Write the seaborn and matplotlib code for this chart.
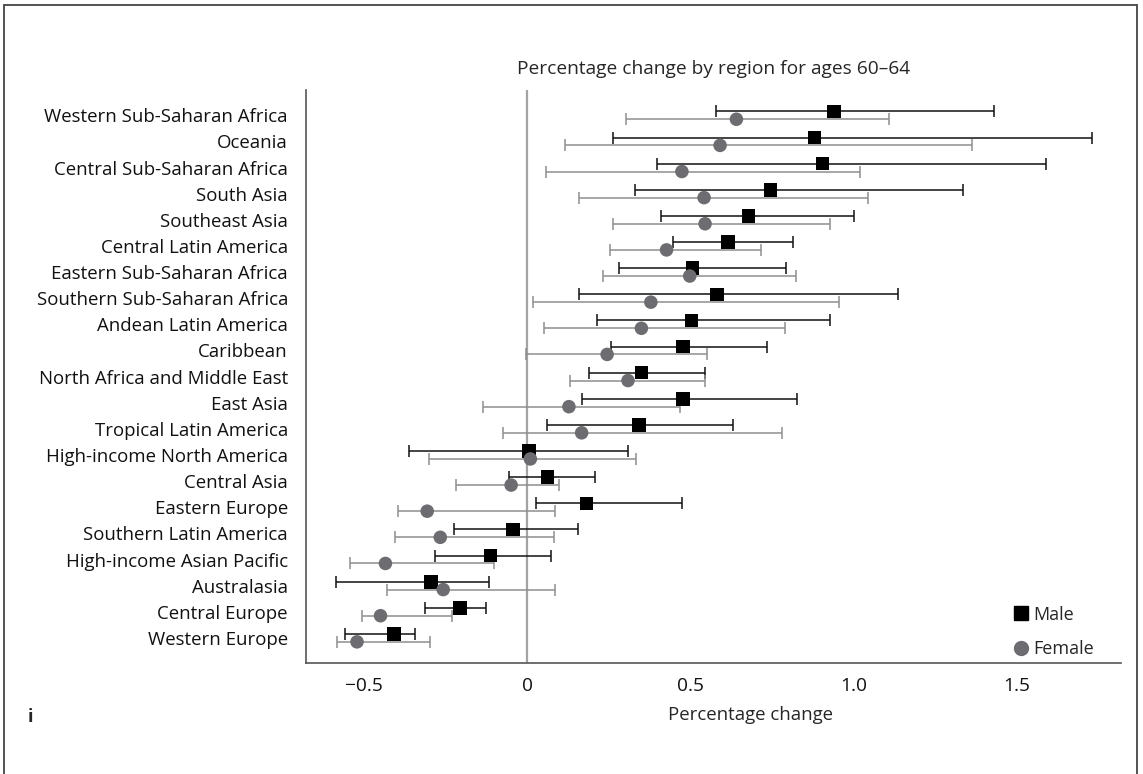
import matplotlib
matplotlib.use("Agg")
import matplotlib.pyplot as plt
from matplotlib.lines import Line2D
from matplotlib.patches import Rectangle
import seaborn as sns
import pandas as pd
import numpy as np


# Data
regions = ["Western Sub-Saharan Africa", "Oceania", "Central Sub-Saharan Africa",
           "South Asia", "Southeast Asia", "Central Latin America",
           "Eastern Sub-Saharan Africa", "Southern Sub-Saharan Africa",
           "Andean Latin America", "Caribbean", "North Africa and Middle East",
           "East Asia", "Tropical Latin America", "High-income North America",
           "Central Asia", "Eastern Europe", "Southern Latin America",
           "High-income Asian Pacific", "Australasia", "Central Europe",
           "Western Europe"]

male_est = [0.940, 0.880, 0.905, 0.746, 0.678, 0.615, 0.506, 0.581, 0.503, 0.478, 0.350,
            0.478, 0.342, 0.006, 0.063, 0.182, -0.044, -0.112, -0.294, -0.206, -0.408]
male_lo = [0.578, 0.264, 0.399, 0.329, 0.409, 0.448, 0.281, 0.159, 0.214, 0.258, 0.189,
           0.168, 0.062, -0.361, -0.055, 0.026, -0.225, -0.281, -0.584, -0.314, -0.559]
male_hi = [1.431, 1.730, 1.590, 1.334, 1.002, 0.814, 0.794, 1.136, 0.928, 0.736, 0.546,
           0.828, 0.632, 0.310, 0.209, 0.473, 0.155, 0.074, -0.118, -0.127, -0.344]

female_est = [0.641, 0.591, 0.474, 0.542, 0.545, 0.427, 0.498, 0.379, 0.350, 0.245, 0.309,
              0.128, 0.167, 0.010, -0.049, -0.306, -0.266, -0.434, -0.257, -0.449, -0.521]
female_lo = [0.302, 0.117, 0.057, 0.158, 0.264, 0.254, 0.231, 0.018, 0.051, -0.004, 0.131,
             -0.134, -0.073, -0.302, -0.218, -0.395, -0.405, -0.541, -0.428, -0.505, -0.582]
female_hi = [1.108, 1.364, 1.018, 1.044, 0.928, 0.715, 0.822, 0.955, 0.791, 0.552, 0.546,
             0.467, 0.781, 0.333, 0.098, 0.085, 0.082, -0.100, 0.086, -0.229, -0.296]

xticks = [-0.5, 0, 0.5, 1.0, 1.5]
xtick_labels = ["\u22120.5", "0", "0.5", "1.0", "1.5"]

male_color = "#000000"
male_bar = "#111111"
female_color = "#6d6d71"
female_bar = "#8e8e8e"

pos = np.arange(len(regions))
df = pd.DataFrame({
    "region": regions * 2,
    "sex": ["Male"] * len(regions) + ["Female"] * len(regions),
    "est": male_est + female_est,
    "lo": male_lo + female_lo,
    "hi": male_hi + female_hi,
    "ypos": np.concatenate([pos - 0.15, pos + 0.15]),
})

sns.set_style("white")
plt.rcParams["font.family"] = ["Open Sans", "DejaVu Sans"]
plt.rcParams["font.size"] = 11.5

fig = plt.figure(figsize=(11.43, 7.74), dpi=100)
ax = fig.add_axes([0.2675, 0.1434, 0.713, 0.740])

ax.axvline(0, color="#a3a3a3", lw=1.6, zorder=1)

# whiskers
for sex, col in [("Male", male_bar), ("Female", female_bar)]:
    d = df[df["sex"] == sex]
    ax.errorbar(d["est"], d["ypos"],
                xerr=[d["est"] - d["lo"], d["hi"] - d["est"]],
                fmt="none", ecolor=col, elinewidth=1.1, capsize=4.3,
                capthick=1.1, zorder=2)

sns.scatterplot(data=df, x="est", y="ypos", hue="sex", style="sex",
                markers={"Male": "s", "Female": "o"},
                palette={"Male": male_color, "Female": female_color},
                s=95, linewidth=0, ax=ax, legend=False, zorder=3)

ax.set_xlim(-0.678, 1.818)
ax.set_ylim(20.96, -0.96)
ax.set_yticks(pos)
ax.set_yticklabels(regions, fontsize=13.4)
ax.set_xticks(xticks)
ax.set_xticklabels(xtick_labels, fontsize=13.8)
ax.set_ylabel("")
ax.set_xlabel("Percentage change", labelpad=8, fontsize=13.4, x=0.546)
ax.set_title("Percentage change by region for ages 60\u201364", pad=12)

for s in ["top", "right"]:
    ax.spines[s].set_visible(False)
for s in ["left", "bottom"]:
    ax.spines[s].set_color("#555555")
    ax.spines[s].set_linewidth(1.2)
ax.tick_params(axis="both", which="both", direction="out", width=1,
               color="#555555", labelcolor="#111111")
ax.tick_params(axis="y", length=5, pad=7.8)
ax.tick_params(axis="x", length=6, pad=4)

handles = [
    Line2D([], [], marker="s", color=male_color, ls="none", markersize=10),
    Line2D([], [], marker="o", color=female_color, ls="none", markersize=10),
]
ax.legend(handles, ["Male", "Female"], frameon=False, loc="lower right",
          bbox_to_anchor=(0.983, -0.014), handletextpad=0.2, labelspacing=0.92,
          handlelength=1.0, borderpad=0.2, fontsize=13)

fig.text(28 / 1143, 1 - 717 / 774, "i", fontweight="bold", ha="left", va="center",
         fontsize=13)
fig.patches.append(Rectangle((4 / 1143, -0.05), 1133 / 1143, 1 - 5 / 774 + 0.05,
                             transform=fig.transFigure, fill=False,
                             edgecolor="#444444", lw=1.3))

fig.savefig("out.png", dpi=100)
